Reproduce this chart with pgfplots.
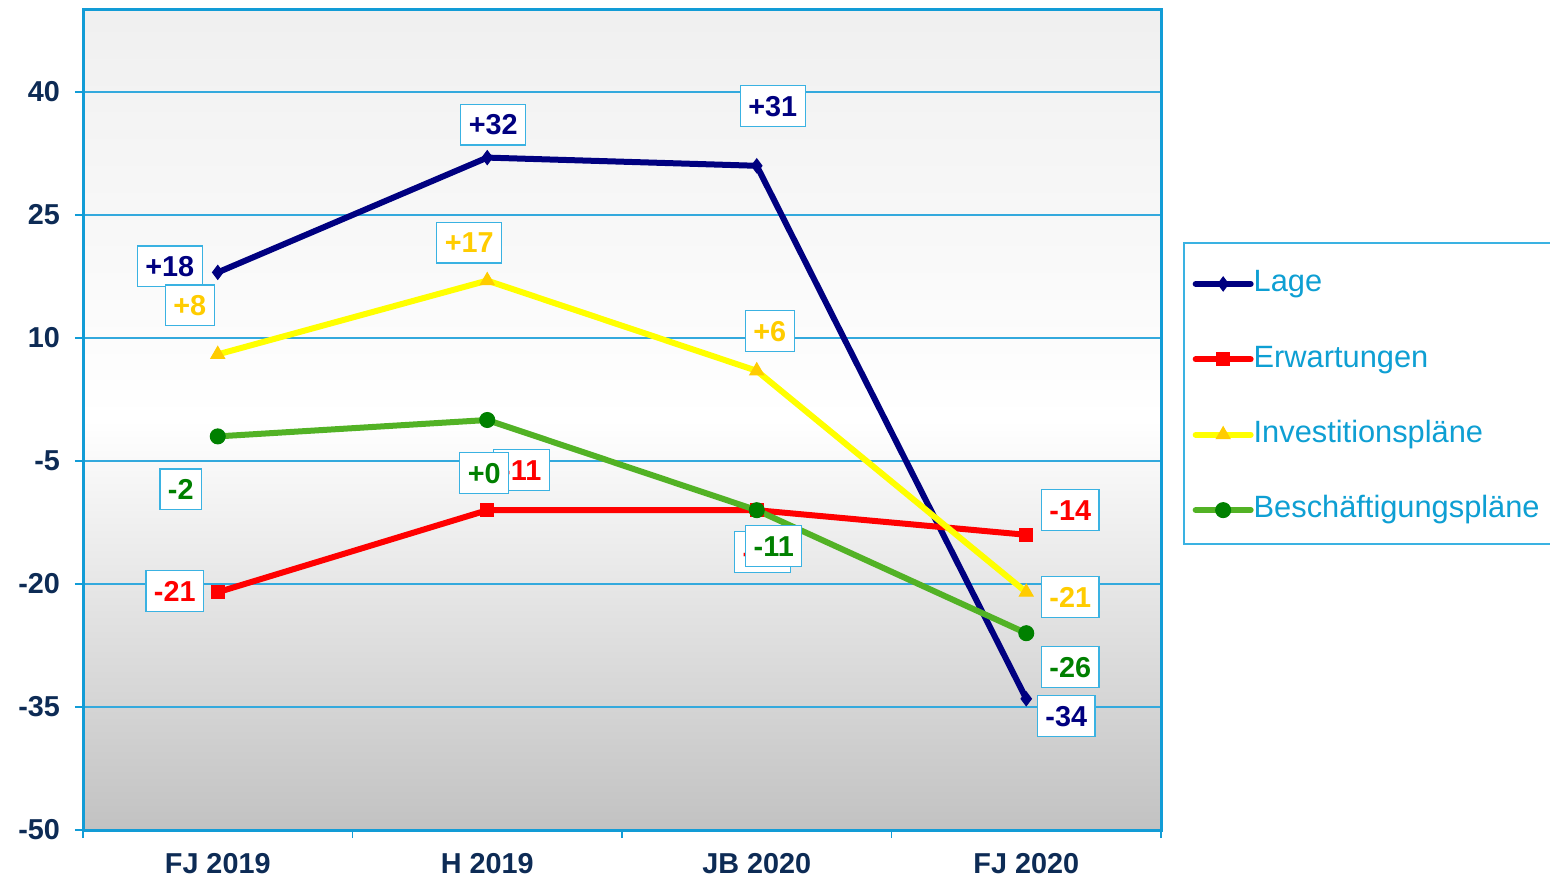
\documentclass[border=0pt]{standalone}
\usepackage{pgfplots}
\pgfplotsset{compat=1.18}
\usepackage{fontspec}
\setmainfont{Liberation Sans}
\definecolor{lnavy}{HTML}{000080}
\definecolor{lred}{HTML}{FF0000}
\definecolor{lyel}{HTML}{FFFF00}
\definecolor{lgold}{HTML}{FFCC00}
\definecolor{lgreenl}{HTML}{52B225}
\definecolor{lgreen}{HTML}{008000}
\definecolor{frame}{HTML}{129CD6}
\definecolor{gridc}{HTML}{33A9DD}
\definecolor{boxc}{HTML}{3AB2E2}
\definecolor{legtext}{HTML}{0E9FD3}
\definecolor{tickc}{HTML}{0D2B55}
\tikzset{lbl/.style={draw=boxc, line width=0.6pt, fill=white, inner xsep=4pt, inner ysep=5pt,
     text height=10.4pt, text depth=0pt, font=\bfseries\fontsize{14.4}{14.4}\selectfont}}
\begin{document}
\begin{tikzpicture}
\begin{axis}[
  at={(41.5pt,25pt)}, anchor=south west,
  scale only axis, width=539pt, height=410pt,
  xmin=-0.5, xmax=3.5, ymin=-50, ymax=50,
  clip=false,
  axis line style={frame, line width=1.5pt},
  axis background/.style={top color=black!6, bottom color=black!24, middle color=white},
  xtick={0,1,2,3},
  xticklabels={FJ 2019, H 2019, JB 2020, FJ 2020},
  major x tick style={draw=none},
  minor xtick={-0.5,0.5,1.5,2.5,3.5},
  minor x tick style={frame, line width=0.8pt},
  minor tick length=4pt,
  ytick={-50,-35,-20,-5,10,25,40},
  yticklabels={-50,-35,-20,-5,10,25,40},
  major tick length=4pt,
  tick align=outside,
  y tick style={frame, line width=0.6pt},
  ymajorgrids,
  grid style={gridc, line width=0.6pt},
  xtick pos=bottom, ytick pos=left,
  tick label style={font=\bfseries\fontsize{14.4}{14.4}\selectfont, text=tickc},
  xticklabel style={yshift=-4pt},
  yticklabel style={xshift=-4pt},
  legend style={draw=none, fill=none, at={(rel axis cs:1.029,0.528)}, anchor=west,
    inner sep=0pt, row sep=23.4pt,
    nodes={inner sep=0pt, text height=11pt, text depth=3.3pt, text=legtext,
      font=\fontsize{15.4}{15.4}\selectfont}},
  legend cell align=left,
  /tikz/every even column/.append style={column sep=0.5pt},
  legend image code/.code={\draw[mark repeat=2, mark phase=2, line cap=round]
     plot coordinates {(0pt,0pt) (13.75pt,0pt) (27.5pt,0pt)};},
]
\draw[boxc, line width=0.8pt, fill=white] (rel axis cs:1.0213,0.3488) rectangle (rel axis cs:1.6,0.7159);
\addplot[lnavy, line width=3pt, mark=diamond*, mark size=3.5pt, mark options={fill=lnavy, draw=lnavy, line width=0.5pt}]
  coordinates {(0,18) (1,32) (2,31) (3,-34)};
\addlegendentry{Lage}
\addplot[lred, line width=3pt, mark=square*, mark size=3.25pt, mark options={fill=lred, draw=lred, line width=0.5pt}]
  coordinates {(0,-21) (1,-11) (2,-11) (3,-14)};
\addlegendentry{Erwartungen}
\addplot[lyel, line width=3pt, mark=triangle*, mark size=4pt, mark options={fill=lgold, draw=lgold, line width=0.5pt}]
  coordinates {(0,8) (1,17) (2,6) (3,-21)};
\addlegendentry{Investitionspläne}
\addplot[lgreenl, line width=3pt, mark=*, mark size=3.75pt, mark options={fill=lgreen, draw=lgreen, line width=0.5pt}]
  coordinates {(0,-2) (1,0) (2,-11) (3,-26)};
\addlegendentry{Beschäftigungspläne}
% labels Lage
\node[lbl, text=lnavy, xshift=-24pt, yshift=3pt] at (axis cs:0,18) {+18};
\node[lbl, text=lnavy, xshift=3pt, yshift=16.5pt] at (axis cs:1,32) {+32};
\node[lbl, text=lnavy, xshift=8pt, yshift=30pt] at (axis cs:2,31) {+31};
\node[lbl, text=lnavy, xshift=20pt, yshift=-8.5pt] at (axis cs:3,-34) {-34};
% labels Erwartungen
\node[lbl, text=lred, xshift=-21.5pt, yshift=0.5pt] at (axis cs:0,-21) {-21};
\node[lbl, text=lred, xshift=17pt, yshift=20pt] at (axis cs:1,-11) {-11};
\node[lbl, text=lred, xshift=3pt, yshift=-21pt] at (axis cs:2,-11) {-11};
\node[lbl, text=lred, xshift=22pt, yshift=12.5pt] at (axis cs:3,-14) {-14};
% labels Investitionen
\node[lbl, text=lgold, xshift=-14pt, yshift=24.5pt] at (axis cs:0,8) {+8};
\node[lbl, text=lgold, xshift=-9pt, yshift=19pt] at (axis cs:1,17) {+17};
\node[lbl, text=lgold, xshift=6.5pt, yshift=20pt] at (axis cs:2,6) {+6};
\node[lbl, text=lgold, xshift=22pt, yshift=-2.5pt] at (axis cs:3,-21) {-21};
% labels Beschaeftigung
\node[lbl, text=lgreen, xshift=-18.5pt, yshift=-26.5pt] at (axis cs:0,-2) {-2};
\node[lbl, text=lgreen, xshift=-1.5pt, yshift=-26.5pt] at (axis cs:1,0) {+0};
\node[lbl, text=lgreen, xshift=8.5pt, yshift=-18pt] at (axis cs:2,-11) {-11};
\node[lbl, text=lgreen, xshift=22pt, yshift=-17pt] at (axis cs:3,-26) {-26};
\end{axis}
\pgfresetboundingbox
\useasboundingbox (0,0) rectangle (775pt,440pt);
\end{tikzpicture}
\end{document}
